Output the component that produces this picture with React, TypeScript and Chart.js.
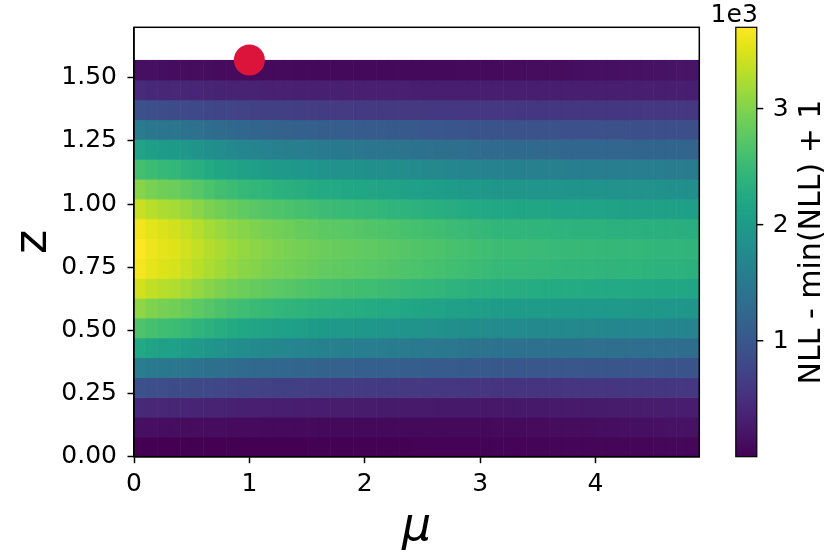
import React, { useEffect, useRef } from "react";
import { Chart, registerables } from "chart.js";

Chart.register(...registerables);

// ---- grid edges (mu on x, z on y) ----
const muEdges = [
  0.0, 0.1, 0.2, 0.3, 0.4, 0.5, 0.6, 0.7, 0.8, 0.9,
  1.0, 1.1, 1.2, 1.3, 1.4, 1.5, 1.6, 1.7, 1.8, 1.9,
  2.0, 2.1, 2.2, 2.3, 2.4, 2.5, 2.6, 2.7, 2.8, 2.9,
  3.0, 3.1, 3.2, 3.3, 3.4, 3.5, 3.6, 3.7, 3.8, 3.9,
  4.0, 4.1, 4.2, 4.3, 4.4, 4.5, 4.6, 4.7, 4.8, 4.9,
];
const zEdges = [
  0.0, 0.0785, 0.1571, 0.2356, 0.3142, 0.3927, 0.4712, 0.5498, 0.6283, 0.7069,
  0.7854, 0.8639, 0.9425, 1.021, 1.0996, 1.1781, 1.2566, 1.3352, 1.4137, 1.4923, 1.5708,
];

// ---- NLL - min(NLL) + 1, one array per z row (bottom to top), one value per mu column ----
const row0 = [1,1,1,1,1,1,1,2,2,3,3,4,5,5,6,7,8,9,10,11,12,13,14,15,17,18,20,22,24,26,28,30,32,34,36,38,40,42,44,46,48,50,52,54,57,60,62,65,67];
const row1 = [150,140,130,130,120,120,110,110,100,100,100,90,90,90,90,90,80,80,80,80,80,80,80,80,80,80,80,80,80,80,80,90,90,90,100,100,110,110,120,120,130,130,140,150,150,160,170,170,180];
const row2 = [430,410,400,390,380,370,360,350,340,330,320,320,310,310,300,300,300,290,290,280,280,270,270,260,260,260,250,250,250,250,240,240,240,250,250,250,260,260,260,270,270,280,280,280,290,290,300,300,300];
const row3 = [910,880,870,850,830,810,790,770,750,730,720,710,700,690,680,670,660,650,640,640,630,630,620,610,610,600,590,590,580,570,570,560,560,560,560,560,560,570,570,570,570,570,580,580,580,580,580,590,590];
const row4 = [1550,1510,1480,1460,1430,1390,1360,1330,1300,1270,1260,1240,1220,1210,1190,1180,1160,1150,1140,1130,1120,1120,1110,1090,1090,1070,1060,1050,1040,1030,1020,1010,1010,1000,1000,1000,990,990,990,980,980,980,970,970,970,970,960,960,960];
const row5 = [2220,2160,2110,2090,2040,1980,1930,1880,1830,1800,1770,1740,1710,1690,1670,1650,1620,1610,1590,1580,1570,1560,1540,1520,1510,1490,1480,1460,1440,1420,1410,1390,1390,1380,1370,1370,1360,1360,1360,1350,1350,1340,1340,1330,1330,1320,1320,1310,1310];
const row6 = [2670,2600,2550,2520,2470,2410,2350,2300,2250,2210,2180,2150,2110,2090,2060,2040,2010,2000,1980,1970,1950,1940,1920,1900,1890,1870,1850,1830,1810,1790,1780,1760,1760,1750,1740,1740,1730,1730,1720,1720,1710,1710,1700,1700,1690,1690,1680,1680,1670];
const row7 = [3070,2990,2940,2910,2840,2770,2710,2650,2590,2550,2510,2480,2440,2410,2390,2360,2330,2310,2300,2280,2260,2250,2230,2200,2190,2160,2150,2120,2100,2080,2060,2040,2040,2030,2020,2020,2010,2000,2000,1990,1990,1980,1980,1970,1960,1960,1950,1950,1940];
const row8 = [3440,3350,3300,3260,3190,3110,3040,2970,2910,2860,2820,2790,2750,2720,2680,2650,2620,2600,2580,2560,2550,2530,2510,2480,2460,2440,2420,2390,2370,2340,2330,2310,2300,2290,2280,2270,2270,2260,2260,2250,2240,2240,2230,2220,2220,2210,2210,2200,2190];
const row9 = [3650,3560,3500,3460,3390,3310,3230,3170,3100,3050,3010,2970,2930,2900,2870,2840,2800,2790,2770,2750,2730,2710,2690,2660,2640,2620,2600,2570,2550,2520,2500,2480,2470,2470,2450,2450,2440,2430,2430,2420,2410,2410,2400,2400,2390,2380,2380,2370,2360];
const row10 = [3700,3610,3550,3510,3440,3360,3280,3220,3150,3100,3060,3020,2980,2950,2920,2890,2850,2840,2820,2800,2780,2760,2740,2710,2690,2670,2650,2620,2600,2570,2550,2530,2520,2520,2500,2500,2490,2480,2480,2470,2460,2460,2450,2450,2440,2430,2430,2420,2410];
const row11 = [3630,3540,3480,3440,3370,3280,3200,3140,3070,3020,2980,2940,2900,2870,2830,2800,2760,2750,2730,2710,2690,2670,2650,2620,2600,2570,2550,2530,2500,2480,2450,2430,2430,2420,2410,2400,2390,2390,2380,2370,2370,2360,2350,2350,2340,2330,2330,2320,2310];
const row12 = [3390,3300,3240,3200,3130,3050,2970,2900,2840,2780,2740,2700,2660,2630,2600,2570,2530,2510,2490,2470,2450,2440,2410,2390,2370,2340,2320,2290,2270,2240,2220,2200,2200,2190,2180,2170,2160,2160,2150,2140,2140,2130,2120,2120,2110,2100,2100,2090,2080];
const row13 = [3030,2950,2890,2860,2790,2720,2640,2580,2520,2470,2440,2400,2360,2330,2300,2270,2240,2230,2210,2190,2170,2160,2140,2110,2090,2070,2050,2030,2000,1980,1960,1940,1940,1930,1920,1910,1910,1900,1890,1890,1880,1870,1870,1860,1860,1850,1840,1840,1830];
const row14 = [2590,2520,2470,2440,2380,2310,2250,2190,2140,2100,2070,2030,2000,1980,1950,1920,1890,1880,1860,1850,1830,1820,1800,1780,1760,1740,1720,1700,1680,1660,1640,1630,1620,1620,1610,1600,1600,1590,1580,1580,1570,1570,1560,1560,1550,1550,1540,1540,1530];
const row15 = [2150,2080,2040,2010,1950,1900,1840,1790,1740,1700,1670,1640,1610,1590,1560,1540,1510,1500,1480,1470,1450,1440,1430,1410,1390,1370,1360,1340,1320,1300,1280,1270,1260,1260,1250,1240,1240,1230,1230,1220,1220,1210,1210,1200,1200,1190,1190,1190,1180];
const row16 = [1520,1470,1450,1430,1390,1350,1310,1280,1250,1220,1200,1180,1160,1150,1130,1110,1100,1090,1080,1070,1060,1050,1040,1030,1020,1000,990,980,970,950,950,940,930,930,920,920,920,910,910,910,900,900,900,890,890,890,880,880,880];
const row17 = [910,880,860,850,820,800,780,760,740,720,710,700,690,680,670,660,650,640,640,630,630,620,620,610,610,600,600,600,590,590,590,590,590,580,580,580,580,580,580,580,580,580,580,580,590,590,590,590,590];
const row18 = [440,420,410,400,390,380,370,360,360,350,350,340,340,340,330,330,330,330,320,320,320,320,320,320,310,310,310,310,310,310,310,310,310,310,310,310,310,310,310,310,310,310,310,310,310,310,310,310,310];
const row19 = [150,140,130,120,120,110,110,100,100,100,90,90,90,90,80,80,80,80,80,80,80,80,80,80,80,80,80,80,90,90,90,90,100,100,110,110,120,120,130,140,140,150,160,160,170,180,190,200,210];

const nllRows = [row0, row1, row2, row3, row4, row5, row6, row7, row8, row9, row10, row11, row12, row13, row14, row15, row16, row17, row18, row19];

// ---- best-fit marker ----
const bestFit = [{ x: 1.0, y: 1.5708 }];

// ---- ticks and labels ----
const xTicks = [0, 1, 2, 3, 4];
const yTicks = [0, 0.25, 0.5, 0.75, 1.0, 1.25, 1.5];
const cbTicks = [1000, 2000, 3000];
const cbOffsetText = "1e3";
const xTitle = "μ";
const yTitle = "z";
const cbTitle = "NLL - min(NLL) + 1";

const FONT = "'DejaVu Sans', 'Liberation Sans', sans-serif";

const viridisStops = [
  "#440154", "#471365", "#482475", "#463480", "#414487", "#3b528b", "#355f8d",
  "#2f6c8e", "#2a788e", "#25848e", "#21918c", "#1e9c89", "#22a884", "#2fb47c",
  "#44bf70", "#5ec962", "#7ad151", "#9bd93c", "#bddf26", "#dfe318", "#fde725",
];
const hexToRgb = (h: string) => [
  parseInt(h.slice(1, 3), 16),
  parseInt(h.slice(3, 5), 16),
  parseInt(h.slice(5, 7), 16),
];
const viridisRgb = viridisStops.map(hexToRgb);
function viridis(t: number): string {
  const tt = Math.min(1, Math.max(0, t));
  const n = viridisRgb.length - 1;
  const p = tt * n;
  const i = Math.min(Math.floor(p), n - 1);
  const f = p - i;
  const a = viridisRgb[i];
  const b = viridisRgb[i + 1];
  const c = a.map((v, k) => Math.round(v + (b[k] - v) * f));
  return `rgb(${c[0]},${c[1]},${c[2]})`;
}

const allValues = nllRows.flat();
const vmin = Math.min(...allValues);
const vmax = Math.max(...allValues);

const heatmapPlugin = {
  id: "heatmap",
  beforeDatasetsDraw(chart: any) {
    const { ctx, chartArea, scales } = chart;
    const xs = scales.x;
    const ys = scales.y;
    ctx.save();
    ctx.beginPath();
    ctx.rect(chartArea.left, chartArea.top, chartArea.right - chartArea.left, chartArea.bottom - chartArea.top);
    ctx.clip();
    nllRows.forEach((row, r) => {
      const yTop = ys.getPixelForValue(zEdges[r + 1]);
      const yBot = ys.getPixelForValue(zEdges[r]);
      row.forEach((v, c) => {
        const x0 = xs.getPixelForValue(muEdges[c]);
        const x1 = xs.getPixelForValue(muEdges[c + 1]);
        ctx.fillStyle = viridis((v - vmin) / (vmax - vmin));
        ctx.fillRect(x0, yTop, x1 - x0 + 0.6, yBot - yTop + 0.6);
      });
    });
    ctx.restore();
  },
  afterDraw(chart: any) {
    const { ctx, chartArea, scales } = chart;
    const cb = scales.cb;
    ctx.save();
    // axes frame
    ctx.strokeStyle = "#000";
    ctx.lineWidth = 1.5;
    ctx.strokeRect(chartArea.left, chartArea.top, chartArea.right - chartArea.left, chartArea.bottom - chartArea.top);

    // colorbar
    const cbLeft = chartArea.right + 36.5;
    const cbWidth = 21;
    const yLo = cb.getPixelForValue(vmin);
    const yHi = cb.getPixelForValue(vmax);
    const grad = ctx.createLinearGradient(0, yLo, 0, yHi);
    viridisStops.forEach((col, i) => grad.addColorStop(i / (viridisStops.length - 1), col));
    ctx.fillStyle = grad;
    ctx.fillRect(cbLeft, yHi, cbWidth, yLo - yHi);
    ctx.lineWidth = 1.2;
    ctx.strokeRect(cbLeft, yHi, cbWidth, yLo - yHi);

    ctx.fillStyle = "#000";
    ctx.font = `25px ${FONT}`;
    ctx.textAlign = "left";
    ctx.textBaseline = "middle";
    cbTicks.forEach((t) => {
      const py = cb.getPixelForValue(t);
      ctx.beginPath();
      ctx.moveTo(cbLeft + cbWidth, py);
      ctx.lineTo(cbLeft + cbWidth + 6.5, py);
      ctx.lineWidth = 1.5;
      ctx.stroke();
      ctx.fillText(String(t / 1000), cbLeft + cbWidth + 16, py + 1);
    });
    ctx.textAlign = "right";
    ctx.textBaseline = "alphabetic";
    ctx.fillText(cbOffsetText, cbLeft + cbWidth + 1, yHi - 5);

    ctx.font = `30px ${FONT}`;
    ctx.translate(cbLeft + cbWidth + 55, (chartArea.top + chartArea.bottom) / 2);
    ctx.rotate(-Math.PI / 2);
    ctx.textAlign = "center";
    ctx.textBaseline = "middle";
    ctx.fillText(cbTitle, 0, 0);
    ctx.restore();
  },
};

export default function App() {
  const canvasRef = useRef<HTMLCanvasElement | null>(null);

  useEffect(() => {
    if (!canvasRef.current) return;
    Chart.defaults.font.family = FONT;
    Chart.defaults.color = "#000";
    const chart = new Chart(canvasRef.current, {
      type: "scatter",
      data: {
        datasets: [
          {
            data: bestFit,
            pointRadius: 15.5,
            pointHoverRadius: 15.5,
            pointBackgroundColor: "#dc143c",
            pointBorderWidth: 0,
            clip: false as any,
          },
        ],
      },
      options: {
        responsive: false,
        animation: false,
        events: [],
        layout: { padding: { left: 0, right: 130.7, top: 27.3, bottom: 0 } },
        plugins: { legend: { display: false }, tooltip: { enabled: false } },
        scales: {
          x: {
            type: "linear",
            min: 0,
            max: 4.9,
            afterBuildTicks: (s: any) => {
              s.ticks = xTicks.map((v) => ({ value: v }));
            },
            afterFit: (s: any) => {
              s.height = 100.3;
            },
            ticks: {
              callback: (v: any) => String(v),
              font: { size: 25, family: FONT },
              color: "#000",
              padding: 6,
              maxRotation: 0,
              autoSkip: false,
            },
            grid: { drawOnChartArea: false, drawTicks: true, tickLength: 6.5, tickWidth: 1.5, tickColor: "#000" },
            border: { display: true, color: "#000", width: 1.5 },
            title: {
              display: true,
              text: xTitle,
              font: { size: 46, family: FONT, style: "italic", lineHeight: 1 },
              color: "#000",
              padding: { top: 0, bottom: 6 },
            },
          },
          y: {
            type: "linear",
            min: 0,
            max: 1.7,
            afterBuildTicks: (s: any) => {
              s.ticks = yTicks.map((v) => ({ value: v }));
            },
            afterFit: (s: any) => {
              s.width = 134;
            },
            ticks: {
              callback: (v: any) => Number(v).toFixed(2),
              font: { size: 25, family: FONT },
              color: "#000",
              padding: 10.5,
              autoSkip: false,
            },
            grid: { drawOnChartArea: false, drawTicks: true, tickLength: 6.5, tickWidth: 1.5, tickColor: "#000" },
            border: { display: true, color: "#000", width: 1.5 },
            title: {
              display: true,
              text: yTitle,
              font: { size: 46, family: FONT, lineHeight: 1 },
              color: "#000",
              padding: { top: 11.5, bottom: 0 },
            },
          },
          cb: {
            type: "linear",
            position: "right",
            display: false,
            min: vmin,
            max: vmax,
          },
        },
      } as any,
      plugins: [heatmapPlugin],
    });
    return () => chart.destroy();
  }, []);

  return (
    <div style={{ position: "fixed", left: 0, top: 0, width: 830, height: 557, background: "#fff" }}>
      <canvas ref={canvasRef} width={830} height={557} style={{ display: "block", width: 830, height: 557 }} />
    </div>
  );
}
